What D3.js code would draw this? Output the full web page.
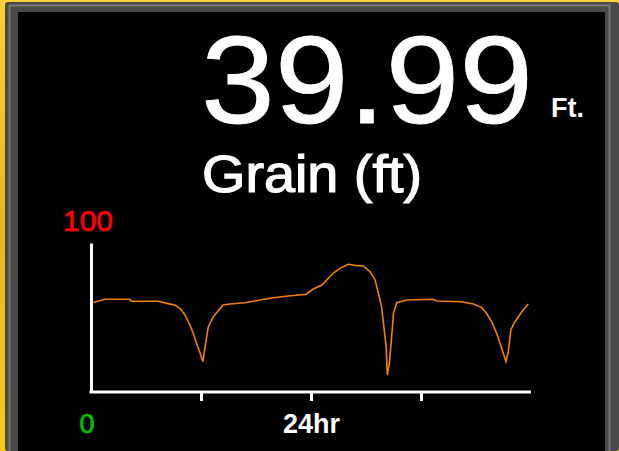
<!DOCTYPE html>
<html>
<head>
<meta charset="utf-8">
<script src="https://cdn.jsdelivr.net/npm/d3@7"></script>
<style>
  html, body { margin: 0; padding: 0; background: #f2c21e; }
  svg { display: block; }
</style>
</head>
<body>
<div id="gauge"></div>
<script>
// readings over the window (hours, value 0-100)
const hours = [0.25, 1.5, 4.25, 4.4, 7.3, 8.3, 9.2, 9.7, 10.25, 10.8, 11.15, 11.5, 11.9, 12.2,
  12.45, 12.8, 13.35, 14.4, 15.15, 16.8, 18.45, 19.9, 21.5, 23.5, 24.25, 25.2, 26.4, 27.15,
  28.05, 28.8, 29.7, 30.45, 31.0, 31.35, 31.7, 31.95, 32.2, 32.32, 32.55, 32.8, 33.0, 33.35,
  34.45, 37.35, 37.7, 40.45, 41.7, 42.6, 43.15, 43.7, 44.25, 44.8, 45.27, 45.55, 45.8, 46.25,
  47.0, 47.7];
const values = [60, 62.2, 62.2, 60.9, 60.9, 59.5, 58.2, 56.2, 51.7, 45, 39.4, 32.9, 26.2, 20.3,
  30.4, 43.8, 50.5, 58.4, 59.1, 59.9, 61.7, 63.3, 64.4, 65.6, 69.1, 71.8, 79.7, 83,
  85.7, 85, 84.6, 80.7, 75.2, 66.2, 57.2, 43.8, 30.4, 11.4, 19.3, 37.1, 52.8, 59.9,
  61.7, 62.2, 61.1, 60.6, 59.1, 56.8, 52.8, 47.2, 39.4, 29.3, 20.3, 28.2, 41.6, 47.2,
  53.9, 59.1];
const xTicks = [12, 24, 36];
const xTickLabels = ["", "24hr", ""];
const yMin = 0, yMax = 100;
const reading = "39.99";
const unit = "Ft.";
const title = "Grain (ft)";

const W = 619, H = 451;
const font = "Liberation Sans, Arial, sans-serif";
const svg = d3.select("#gauge").append("svg").attr("width", W).attr("height", H);

// panel frame
const bg = svg.append("defs").append("linearGradient").attr("id", "gold")
  .attr("x1", 0).attr("y1", 0).attr("x2", 0).attr("y2", 1);
bg.append("stop").attr("offset", "0%").attr("stop-color", "#f7d23a");
bg.append("stop").attr("offset", "50%").attr("stop-color", "#e4b520");
bg.append("stop").attr("offset", "100%").attr("stop-color", "#f5c817");
svg.append("rect").attr("width", W).attr("height", H).attr("fill", "url(#gold)");
svg.append("rect").attr("x", 5).attr("y", 2).attr("width", W - 5).attr("height", H - 2)
  .attr("rx", 3).attr("fill", "#4a4a48");
svg.append("rect").attr("x", 9.5).attr("y", 5.5).attr("width", 600).attr("height", H)
  .attr("fill", "none").attr("stroke", "#7a7a76").attr("stroke-width", 2);
svg.append("rect").attr("x", 18).attr("y", 12).attr("width", 587).attr("height", H - 12)
  .attr("fill", "#000");

// header text
svg.append("text").attr("x", 533).attr("y", 123).attr("text-anchor", "end")
  .attr("font-family", font).attr("font-size", 124)
  .attr("textLength", 332).attr("lengthAdjust", "spacingAndGlyphs")
  .attr("fill", "#fff").attr("stroke", "#fff").attr("stroke-width", 0.8)
  .text(reading);
svg.append("text").attr("x", 551).attr("y", 117)
  .attr("font-family", font).attr("font-size", 27)
  .attr("font-weight", "bold").attr("fill", "#fff").text(unit);
svg.append("text").attr("x", 202).attr("y", 192)
  .attr("font-family", font).attr("font-size", 51)
  .attr("textLength", 220).attr("lengthAdjust", "spacingAndGlyphs")
  .attr("fill", "#fff").attr("stroke", "#fff").attr("stroke-width", 1.2)
  .text(title);

// chart
const x = d3.scaleLinear().domain([0, 48]).range([91, 531]);
const y = d3.scaleLinear().domain([yMin, yMax]).range([392, 243]);

const xAxis = svg.append("g").attr("transform", "translate(0,392)")
  .call(d3.axisBottom(x).tickValues(xTicks).tickSize(9).tickSizeOuter(0)
    .tickFormat((d, i) => xTickLabels[i]));
xAxis.select(".domain").attr("stroke", "#fff").attr("stroke-width", 3)
  .attr("d", `M${x(0) - 1.5},0H${x(48)}`);
xAxis.selectAll(".tick line").attr("stroke", "#fff").attr("stroke-width", 3);
xAxis.selectAll(".tick text").attr("y", 41).attr("dy", 0)
  .attr("fill", "#fff").attr("font-size", 27).attr("font-weight", "bold")
  .attr("font-family", font);

const yAxis = svg.append("g").attr("transform", `translate(${x(0)},0)`)
  .call(d3.axisLeft(y).tickValues([]).tickSizeOuter(0));
yAxis.select(".domain").attr("stroke", "#fff").attr("stroke-width", 3);

svg.append("text").attr("x", 63).attr("y", 231)
  .attr("font-family", font).attr("font-size", 30)
  .attr("fill", "#ff0000").attr("stroke", "#ff0000").attr("stroke-width", 0.7)
  .text(yMax);
svg.append("text").attr("x", 87).attr("y", 433).attr("text-anchor", "middle")
  .attr("font-family", font).attr("font-size", 27)
  .attr("fill", "#00c000").attr("stroke", "#00c000").attr("stroke-width", 0.7)
  .text(yMin);

const pts = hours.map((h, i) => [h, values[i]]);
svg.append("path").datum(pts)
  .attr("fill", "none").attr("stroke", "#f08200").attr("stroke-width", 1.6)
  .attr("d", d3.line().x((d) => x(d[0])).y((d) => y(d[1])));
</script>
</body>
</html>
